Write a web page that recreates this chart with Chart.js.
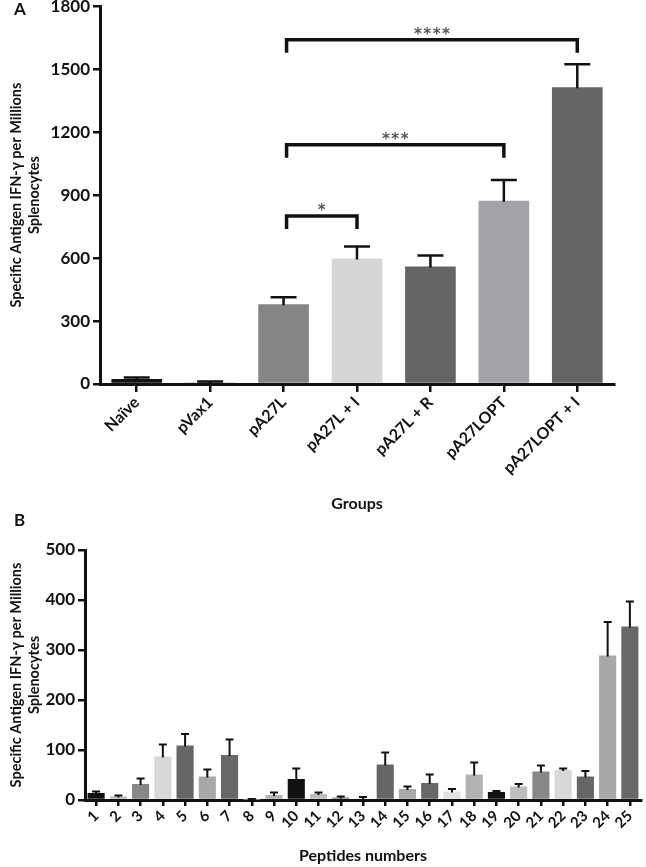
<!DOCTYPE html>
<html><head><meta charset="utf-8">
<script src="https://cdn.jsdelivr.net/npm/chart.js@4/dist/chart.umd.min.js"></script>
<style>
body{margin:0;background:#fff;width:646px;height:867px;position:relative;overflow:hidden;font-family:Lato,sans-serif}
canvas{position:absolute;left:0}
#ca{top:-7px}
#cb{top:515px}
.lbl{position:absolute;font:bold 17px Lato,sans-serif;color:#111}
</style></head><body>
<canvas id="ca" width="646" height="522"></canvas>
<canvas id="cb" width="646" height="352"></canvas>
<div class="lbl" style="left:14px;top:-2px">A</div>
<div class="lbl" style="left:14px;top:509px">B</div>
<script>
// ---------- Panel A data ----------
const groups = ['Naïve','pVax1','pA27L','pA27L + I','pA27L + R','pA27LOPT','pA27LOPT + I'];
const groupMeans = [24, 8, 380, 598, 560, 873, 1414];
const groupErrors = [7, 4, 33, 57, 52, 99, 109];
const groupTicks = [0, 300, 600, 900, 1200, 1500, 1800];
// significance brackets (category index from -> to, bracket level value, label)
const bracketFrom = [2, 2, 2];
const bracketTo = [3, 5, 6];
const bracketLevel = [800, 1140, 1640];
const bracketLabels = ['*', '***', '****'];

// ---------- Panel B data ----------
const peptides = ['1','2','3','4','5','6','7','8','9','10','11','12','13','14','15','16','17','18','19','20','21','22','23','24','25'];
const peptideMeans = [14, 7, 32, 87, 109, 47, 90, 1, 10, 42, 12, 5, 3, 71, 22, 34, 17, 51, 16, 27, 57, 60, 47, 289, 347];
const peptideErrors = [3, 2, 11, 24, 23, 14, 31, 1, 5, 21, 3, 2, 3, 24, 5, 17, 5, 24, 2, 5, 12, 3, 11, 67, 50];
const peptideTicks = [0, 100, 200, 300, 400, 500];

// ---------- styles ----------
const colorsA = ['#111111','#c4c4c4','#858585','#d6d6d6','#646464','#a3a3a7','#646464'];
const paletteB = ['#111111','#bdbdbd','#878787','#d8d8d8','#666666','#a8a8ab','#686868','#e2e2e2','#b2b2b2'];
const colorsB = peptides.map((_, i) => paletteB[i % paletteB.length]);
const FONT = 'Lato, sans-serif';
const INK = '#111';

const errorBars = {
  id: 'errorBars',
  afterDatasetsDraw(chart, args, o) {
    const {ctx, scales: {y}} = chart;
    const meta = chart.getDatasetMeta(0);
    ctx.save();
    ctx.strokeStyle = INK; ctx.lineWidth = o.lw; ctx.lineCap = 'butt';
    meta.data.forEach((bar, i) => {
      const m = o.means[i], e = o.errs[i];
      const yt = y.getPixelForValue(m + e), yb = y.getPixelForValue(m);
      ctx.beginPath();
      ctx.moveTo(bar.x, yb + 1); ctx.lineTo(bar.x, yt);
      ctx.moveTo(bar.x - o.cap / 2, yt); ctx.lineTo(bar.x + o.cap / 2, yt);
      ctx.stroke();
    });
    ctx.restore();
  }
};

const brackets = {
  id: 'brackets',
  afterDatasetsDraw(chart, args, o) {
    if (!o.from) return;
    const {ctx, scales: {x, y}} = chart;
    ctx.save();
    o.from.forEach((f, k) => {
      const x1 = x.getPixelForValue(f) + 3, x2 = x.getPixelForValue(o.to[k]);
      const yy = y.getPixelForValue(o.level[k]);
      ctx.strokeStyle = INK; ctx.lineWidth = 3.5; ctx.lineJoin = 'miter';
      ctx.beginPath();
      ctx.moveTo(x1, yy + o.arm); ctx.lineTo(x1, yy); ctx.lineTo(x2, yy); ctx.lineTo(x2, yy + o.arm);
      ctx.stroke();
      ctx.fillStyle = '#555';
      ctx.font = 'bold 15px "DejaVu Sans", sans-serif';
      ctx.textAlign = 'center'; ctx.textBaseline = 'alphabetic';
      const txt = o.labels[k].split('').join('\u200A');
      ctx.fillText(txt, (x1 + x2) / 2, yy - 1);
    });
    ctx.restore();
  }
};

function axisCommon(size) {
  return {
    grid: {drawOnChartArea: false, drawTicks: true, tickLength: 7, color: INK, lineWidth: 2.5},
    border: {display: true, color: INK, width: 3},
    ticks: {color: INK, font: {family: FONT, weight: 'bold', size: size}}
  };
}

function makeChart(id, labels, means, errs, colors, ticks, opt) {
  const yAxis = axisCommon(opt.yFont);
  yAxis.min = 0; yAxis.max = ticks[ticks.length - 1];
  yAxis.afterBuildTicks = s => { s.ticks = ticks.map(v => ({value: v})); };
  yAxis.ticks.padding = 3;
  yAxis.ticks.callback = v => String(v);
  yAxis.title = {display: true, text: ['Specific Antigen IFN-γ per Millions', 'Splenocytes'],
    color: INK, font: {family: FONT, weight: 'bold', size: 14.5, lineHeight: 1.2}, padding: {top: opt.yTitlePad, bottom: 0}};
  yAxis.afterFit = s => { s.width = opt.yWidth; };
  const xAxis = axisCommon(opt.xFont);
  xAxis.offset = true;
  xAxis.grid.offset = false;
  xAxis.grid.tickLength = opt.xTick;
  xAxis.ticks.minRotation = 45; xAxis.ticks.maxRotation = 45; xAxis.ticks.autoSkip = false;
  xAxis.ticks.padding = 1;
  xAxis.title = {display: true, text: opt.xTitle, color: INK,
    font: {family: FONT, weight: 'bold', size: 16}, padding: {top: 0, bottom: opt.xTitleBottom}};
  xAxis.afterFit = s => { s.height = opt.xHeight; };
  return new Chart(document.getElementById(id), {
    type: 'bar',
    data: {labels: labels, datasets: [{data: means, backgroundColor: colors,
      barPercentage: opt.barPct, categoryPercentage: 1, borderWidth: 0}]},
    options: {
      responsive: false, animation: false, devicePixelRatio: 1,
      layout: {padding: opt.pad},
      plugins: {legend: {display: false}, tooltip: {enabled: false},
        errorBars: {means: means, errs: errs, cap: opt.cap, lw: opt.errLw},
        brackets: opt.brackets || {}},
      scales: {x: xAxis, y: yAxis}
    },
    plugins: [errorBars, brackets]
  });
}

makeChart('ca', groups, groupMeans, groupErrors, colorsA, groupTicks, {
  yFont: 17, xFont: 16, yWidth: 100, xHeight: 131, xTick: 8, yTitlePad: 8,
  xTitle: 'Groups', xTitleBottom: 2, barPct: 0.69, cap: 26, errLw: 2.5,
  pad: {left: 0, right: 32, top: 0, bottom: 0},
  brackets: {from: bracketFrom, to: bracketTo, level: bracketLevel, labels: bracketLabels, arm: 13}
});

makeChart('cb', peptides, peptideMeans, peptideErrors, colorsB, peptideTicks, {
  yFont: 17, xFont: 15, yWidth: 85, xHeight: 67, xTick: 6, yTitlePad: 8,
  xTitle: 'Peptides numbers', xTitleBottom: 2, barPct: 0.77, cap: 8, errLw: 2,
  pad: {left: 0, right: 5, top: 35, bottom: 0}
});
</script>
</body></html>
